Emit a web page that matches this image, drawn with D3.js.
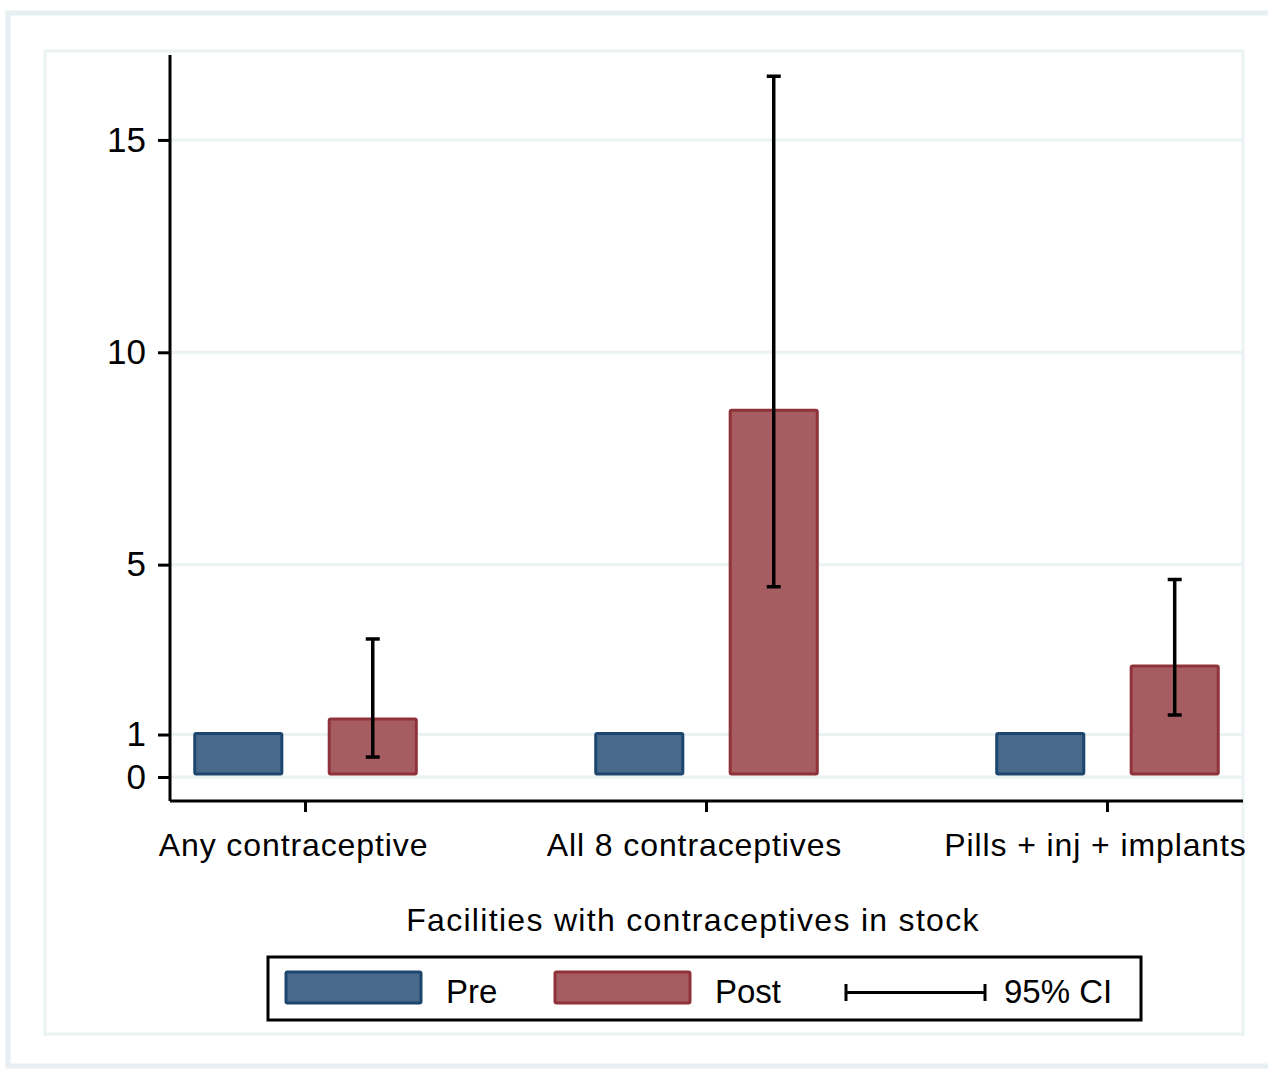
<!DOCTYPE html>
<html>
<head>
<meta charset="utf-8">
<script src="https://cdn.jsdelivr.net/npm/d3@7"></script>
<style>
  body { margin: 0; background: #fff; }
  svg { display: block; font-family: "Liberation Sans", Arial, sans-serif; }
</style>
</head>
<body>
<svg id="chart" width="1268" height="1071"></svg>
<script>
// data
var categories = ["Any contraceptive", "All 8 contraceptives", "Pills + inj + implants"];
var seriesNames = ["Pre", "Post"];
var preValues = [1, 1, 1];
var postValues = [1.34, 8.61, 2.59];
var postLower = [0.47, 4.48, 1.46];
var postUpper = [3.25, 16.5, 4.65];
var yTicks = [0, 1, 5, 10, 15];

var colors = {
    Pre: { fill: "#48698c", stroke: "#1c466d" },
    Post: { fill: "#a65d61", stroke: "#8f323a" }
};
var gridColor = "#eaf2f3";

var svg = d3.select("#chart");

// outer and inner region frames
svg.append("rect")
    .attr("x", 8).attr("y", 13).attr("width", 1268).attr("height", 1053)
    .attr("fill", "none").attr("stroke", "#e8eff2").attr("stroke-width", 5);
svg.append("rect")
    .attr("x", 45).attr("y", 51).attr("width", 1198).attr("height", 983)
    .attr("fill", "none").attr("stroke", gridColor).attr("stroke-width", 3);

var left = 170, right = 1243;

var y = d3.scaleLinear()
    .domain([-0.565, 17])
    .range([801, 55]);

var x = d3.scaleBand()
    .domain(categories)
    .range([left, right])
    .paddingInner(0.44)
    .paddingOuter(0.058);

var xs = d3.scaleBand()
    .domain(seriesNames)
    .range([0, x.bandwidth()])
    .paddingInner(0.33);

// gridlines
svg.append("g")
    .selectAll("line")
    .data(yTicks)
    .enter()
    .append("line")
    .attr("x1", left).attr("x2", right)
    .attr("y1", function(d) { return y(d); })
    .attr("y2", function(d) { return y(d); })
    .attr("stroke", gridColor)
    .attr("stroke-width", 3);

// bars
var rows = categories.map(function(c, i) {
    return { cat: c, Pre: preValues[i], Post: postValues[i], lo: postLower[i], hi: postUpper[i] };
});

var groups = svg.append("g")
    .selectAll("g")
    .data(rows)
    .enter()
    .append("g")
    .attr("transform", function(d) { return "translate(" + x(d.cat) + ",0)"; });

groups.selectAll("rect")
    .data(function(d) { return seriesNames.map(function(s) { return { s: s, v: d[s] }; }); })
    .enter()
    .append("rect")
    .attr("x", function(d) { return xs(d.s) + 1.5; })
    .attr("width", xs.bandwidth() - 3)
    .attr("y", function(d) { return y(d.v) - 1; })
    .attr("height", function(d) { return y(0) - y(d.v) - 2; })
    .attr("fill", function(d) { return colors[d.s].fill; })
    .attr("stroke", function(d) { return colors[d.s].stroke; })
    .attr("stroke-width", 3)
    .attr("rx", 1.5);

// error bars on Post
var cap = 7;
var eb = groups.append("g")
    .attr("stroke", "#000")
    .attr("stroke-width", 3.5);
eb.append("line")
    .attr("x1", xs("Post") + xs.bandwidth() / 2)
    .attr("x2", xs("Post") + xs.bandwidth() / 2)
    .attr("y1", function(d) { return y(d.hi); })
    .attr("y2", function(d) { return y(d.lo); });
eb.append("line")
    .attr("x1", xs("Post") + xs.bandwidth() / 2 - cap)
    .attr("x2", xs("Post") + xs.bandwidth() / 2 + cap)
    .attr("y1", function(d) { return y(d.hi); })
    .attr("y2", function(d) { return y(d.hi); });
eb.append("line")
    .attr("x1", xs("Post") + xs.bandwidth() / 2 - cap)
    .attr("x2", xs("Post") + xs.bandwidth() / 2 + cap)
    .attr("y1", function(d) { return y(d.lo); })
    .attr("y2", function(d) { return y(d.lo); });

// axes
var yAxis = svg.append("g")
    .attr("transform", "translate(" + left + ",0)")
    .call(d3.axisLeft(y).tickValues(yTicks).tickSize(12).tickPadding(12).tickFormat(d3.format("d")));
yAxis.select(".domain").attr("stroke-width", 3).attr("d", "M0," + y(17) + "V" + y(-0.565));
yAxis.selectAll(".tick line").attr("stroke-width", 3);
yAxis.selectAll(".tick text")
    .attr("font-size", 35).attr("fill", "#000")
    .style("font-family", "Liberation Sans, Arial, sans-serif");

var xAxis = svg.append("g")
    .attr("transform", "translate(0," + y(-0.565) + ")")
    .call(d3.axisBottom(x).tickSize(11).tickPadding(21));
xAxis.select(".domain").attr("stroke-width", 3).attr("d", "M" + left + ",0H" + right);
xAxis.selectAll(".tick line").attr("stroke-width", 3);
xAxis.selectAll(".tick text")
    .attr("font-size", 32).attr("fill", "#000")
    .attr("dx", -12)
    .style("letter-spacing", "0.9px")
    .style("font-family", "Liberation Sans, Arial, sans-serif");

// axis title
svg.append("text")
    .attr("x", 693).attr("y", 931)
    .attr("text-anchor", "middle")
    .attr("font-size", 32)
    .style("letter-spacing", "1.3px")
    .text("Facilities with contraceptives in stock");

// legend
var lg = svg.append("g");
lg.append("rect")
    .attr("x", 268).attr("y", 957).attr("width", 873).attr("height", 63)
    .attr("fill", "#fff").attr("stroke", "#000").attr("stroke-width", 3);

var legendItems = [
    { s: "Pre", x: 286, tx: 446 },
    { s: "Post", x: 555, tx: 715 }
];
lg.selectAll("rect.sw")
    .data(legendItems)
    .enter()
    .append("rect")
    .attr("class", "sw")
    .attr("x", function(d) { return d.x; })
    .attr("y", 972)
    .attr("width", 135).attr("height", 31)
    .attr("fill", function(d) { return colors[d.s].fill; })
    .attr("stroke", function(d) { return colors[d.s].stroke; })
    .attr("stroke-width", 3)
    .attr("rx", 1.5);
lg.selectAll("text.lt")
    .data(legendItems)
    .enter()
    .append("text")
    .attr("class", "lt")
    .attr("x", function(d) { return d.tx; })
    .attr("y", 1003)
    .attr("font-size", 33)
    .text(function(d) { return d.s; });

lg.append("path")
    .attr("d", "M846,984V1001M846,992.5H985M985,984V1001")
    .attr("fill", "none").attr("stroke", "#000").attr("stroke-width", 3);
lg.append("text")
    .attr("x", 1004).attr("y", 1003)
    .attr("font-size", 33)
    .text("95% CI");
</script>
</body>
</html>
